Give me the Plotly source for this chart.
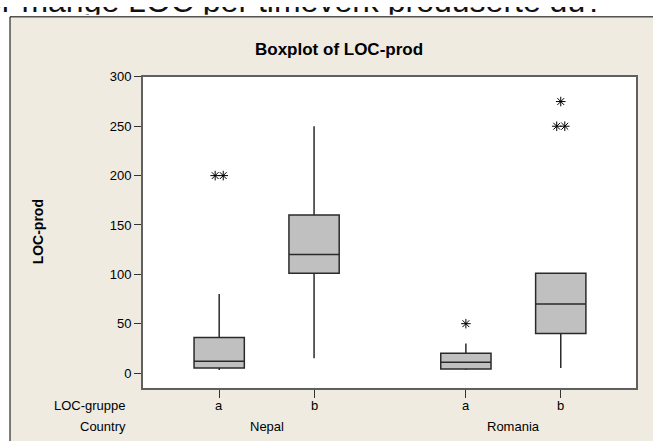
import plotly.graph_objects as go

# ---------------- data ----------------
countries = ["Nepal", "Nepal", "Romania", "Romania"]
groups = ["a", "b", "a", "b"]
q1 = [5, 101, 4, 40]
median = [12, 120, 11, 70]
q3 = [36, 160, 20, 101]
lower_whisker = [3, 15, 3, 5]
upper_whisker = [80, 250, 30, 101]
outliers = [[200, 200], [], [50], [250, 250, 275]]
y_ticks = [0, 50, 100, 150, 200, 250, 300]

title_text = "Boxplot of LOC-prod"
y_title = "LOC-prod"
header_text = "Hvor mange LOC per timeverk produserte du?"

# ---------------- layout helpers ----------------
W, H = 653, 441
def fx(p):
    return p / W
def fy(p):
    return 1 - p / H

positions = []
cur = 0.0
for i, c in enumerate(countries):
    if i > 0:
        cur += 1.0 if countries[i - 1] == c else 1.6
    positions.append(cur)

FONT = "Liberation Sans, Arial, sans-serif"
BEIGE = "#EFEBE1"

fig = go.Figure()

for i in range(len(groups)):
    fig.add_trace(go.Box(
        x=[positions[i]], q1=[q1[i]], median=[median[i]], q3=[q3[i]],
        lowerfence=[lower_whisker[i]], upperfence=[upper_whisker[i]],
        width=0.53, whiskerwidth=0, boxpoints=False,
        fillcolor="#C0C0C0", line=dict(color="#2a2a2a", width=1.5),
        showlegend=False, hoverinfo="skip",
    ))

ox, oy = [], []
for i, vals in enumerate(outliers):
    counts = {}
    for v in vals:
        counts[v] = counts.get(v, 0) + 1
    for v, n in counts.items():
        for k in range(n):
            ox.append(positions[i] + (k - (n - 1) / 2) * 0.085)
            oy.append(v)
fig.add_trace(go.Scatter(
    x=ox, y=oy, mode="markers", showlegend=False, hoverinfo="skip",
    marker=dict(symbol="asterisk-open", size=8, color="black",
                line=dict(color="black", width=1)),
))

fig.add_trace(go.Scatter(
    x=[603], y=[-3], mode="text", text=[header_text], textposition="middle left",
    textfont=dict(family=FONT, size=32, color="#111111"),
    xaxis="x2", yaxis="y2", cliponaxis=True, showlegend=False, hoverinfo="skip",
))

fig.update_layout(
    width=W, height=H,
    margin=dict(l=0, r=0, t=0, b=0),
    paper_bgcolor="white", plot_bgcolor="white",
    font=dict(family=FONT, size=13, color="black"),
    xaxis=dict(
        domain=[fx(143), fx(636)], range=[-0.803, 4.393],
        tickvals=positions, ticktext=groups, showticklabels=False,
        ticks="outside", ticklen=8, tickcolor="#333333", tickwidth=1,
        showline=True, mirror=True, linecolor="#606060", linewidth=2,
        showgrid=False, zeroline=False,
    ),
    yaxis=dict(
        domain=[fy(387), fy(71)], range=[-15, 300],
        tickvals=y_ticks, ticks="outside", ticklen=7, tickcolor="#333333",
        showline=True, mirror=True, linecolor="#606060", linewidth=2,
        showgrid=False, zeroline=False, tickfont=dict(size=13),
    ),
    xaxis2=dict(domain=[0, 1], range=[0, W], visible=False, anchor="y2"),
    yaxis2=dict(domain=[fy(8), 1], range=[8, 0], visible=False, anchor="x2"),
    shapes=[
        dict(type="rect", xref="paper", yref="paper", x0=fx(10), x1=1.05,
             y0=-0.05, y1=fy(10), fillcolor=BEIGE,
             line=dict(color="black", width=1), layer="below"),
        dict(type="rect", xref="paper", yref="paper", x0=fx(143), x1=fx(636),
             y0=fy(387), y1=fy(71), fillcolor="white",
             line=dict(width=0), layer="below"),
    ],
)

ROW1, ROW2 = 405, 426
annotations = [
    dict(text="<b>%s</b>" % title_text, x=fx(338.5), y=fy(43), xref="paper", yref="paper",
         showarrow=False, xanchor="center", yanchor="middle", font=dict(size=17)),
    dict(text="<b>%s</b>" % y_title, x=fx(38), y=fy(229), xref="paper", yref="paper",
         showarrow=False, textangle=-90, xanchor="center", yanchor="middle",
         font=dict(size=14)),
    dict(text="LOC-gruppe", x=fx(128), y=fy(ROW1), xref="paper", yref="paper",
         showarrow=False, xanchor="right", yanchor="middle", font=dict(size=13)),
    dict(text="Country", x=fx(128), y=fy(ROW2), xref="paper", yref="paper",
         showarrow=False, xanchor="right", yanchor="middle", font=dict(size=13)),
]
for p, g in zip(positions, groups):
    annotations.append(dict(text=g, x=p, y=fy(ROW1), xref="x", yref="paper",
                            showarrow=False, xanchor="center", yanchor="middle",
                            font=dict(size=13)))
seen = []
for c in countries:
    if c not in seen:
        seen.append(c)
for c in seen:
    ps = [p for p, cc in zip(positions, countries) if cc == c]
    annotations.append(dict(text=c, x=sum(ps) / len(ps), y=fy(ROW2), xref="x", yref="paper",
                            showarrow=False, xanchor="center", yanchor="middle",
                            font=dict(size=13)))
fig.update_layout(annotations=annotations)

fig.write_html("out.html", config={"displayModeBar": False},
               post_script="document.body.style.margin='0';")
